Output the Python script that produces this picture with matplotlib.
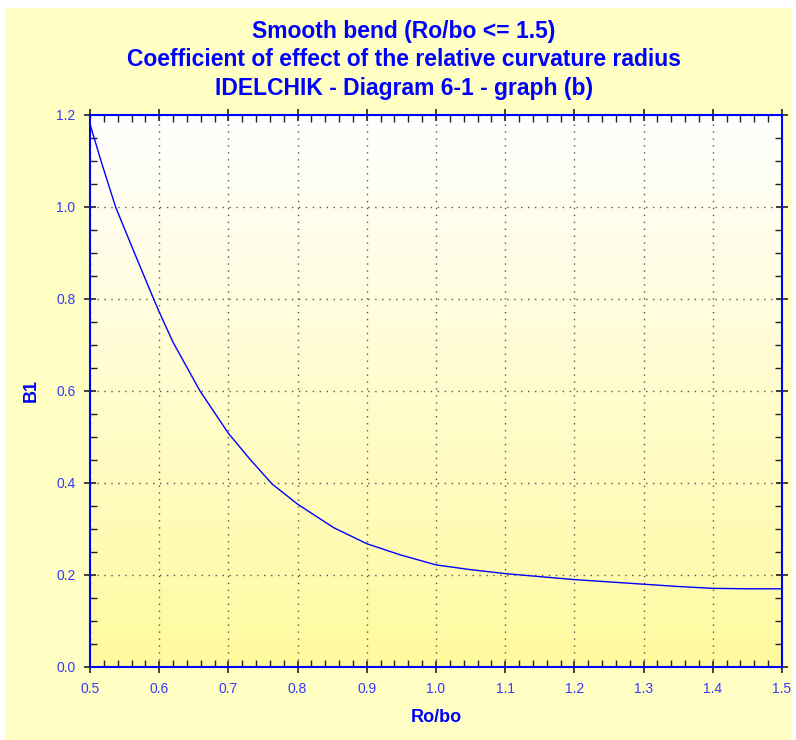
import numpy as np
import matplotlib
matplotlib.use("Agg")
import matplotlib.pyplot as plt
from matplotlib.patches import Rectangle
from matplotlib.ticker import MultipleLocator, FormatStrFormatter

# values
ro_bo = [0.500, 0.517, 0.537, 0.564, 0.592, 0.600, 0.620, 0.659, 0.700,
         0.731, 0.763, 0.800, 0.852, 0.900, 0.948, 1.000, 1.048, 1.100,
         1.200, 1.300, 1.350, 1.400, 1.450, 1.500]
b1 = [1.180, 1.095, 1.000, 0.901, 0.800, 0.772, 0.706, 0.600, 0.508,
      0.452, 0.398, 0.354, 0.303, 0.268, 0.244, 0.222, 0.212, 0.203,
      0.190, 0.180, 0.175, 0.171, 0.170, 0.170]

title = ("Smooth bend (Ro/bo <= 1.5)\n"
         "Coefficient of effect of the relative curvature radius\n"
         "IDELCHIK - Diagram 6-1 - graph (b)")

blue = "#0000FF"
label_blue = "#3838FF"
plt.rcParams['font.family'] = ['Liberation Sans', 'DejaVu Sans']

fig = plt.figure(figsize=(7.96, 7.40), dpi=100, facecolor="white")
# yellow panel with a thin white border at top/left
fig.patches.append(Rectangle((5 / 796, 0), 1 - 9 / 796, 1 - 8 / 740,
                             transform=fig.transFigure, facecolor="#FFFFC4",
                             edgecolor="none", zorder=-10))

ax = fig.add_axes([90 / 796, 73 / 740, 692 / 796, 552 / 740])
ax.set_xlim(0.5, 1.5)
ax.set_ylim(0.0, 1.2)

# vertical gradient: white at top to yellow at bottom
grad = np.linspace(0, 1, 256).reshape(-1, 1)
top = np.array([1.0, 1.0, 1.0])
bot = np.array([1.0, 0.98, 0.62])
img = top + (bot - top) * grad[:, :, None]
ax.imshow(img, extent=[0.5, 1.5, 0.0, 1.2], aspect="auto", origin="upper",
          zorder=0, interpolation="bilinear")

ax.plot(ro_bo, b1, color=blue, linewidth=1.0, zorder=3)

ax.xaxis.set_major_locator(MultipleLocator(0.1))
ax.xaxis.set_minor_locator(MultipleLocator(0.02))
ax.yaxis.set_major_locator(MultipleLocator(0.2))
ax.yaxis.set_minor_locator(MultipleLocator(0.05))
ax.xaxis.set_major_formatter(FormatStrFormatter("%.1f"))
ax.yaxis.set_major_formatter(FormatStrFormatter("%.1f"))

ax.grid(True, which="major", linestyle=(0, (1, 4)), color="#555555",
        linewidth=1.0, zorder=1)

ax.tick_params(which="major", direction="inout", length=9, width=1.2,
               color="#222222", labelcolor=label_blue, labelsize=10,
               top=True, right=True, pad=6)
ax.tick_params(which="minor", direction="in", length=5, width=1.0,
               color="#222222", top=True, right=True)

for s in ax.spines.values():
    s.set_color(blue)
    s.set_linewidth(1.5)
    s.set_zorder(4)

ax.set_xlabel("Ro/bo", color=blue, fontsize=13, fontweight="bold", labelpad=10)
ax.set_ylabel("B1", color=blue, fontsize=13, fontweight="bold", labelpad=12)

fig.text(404 / 796, 1 - 60 / 740, title, ha="center", va="center",
         color=blue, fontsize=16.5, fontweight="bold", linespacing=1.28)

fig.savefig("out.png", dpi=100, facecolor=fig.get_facecolor())
